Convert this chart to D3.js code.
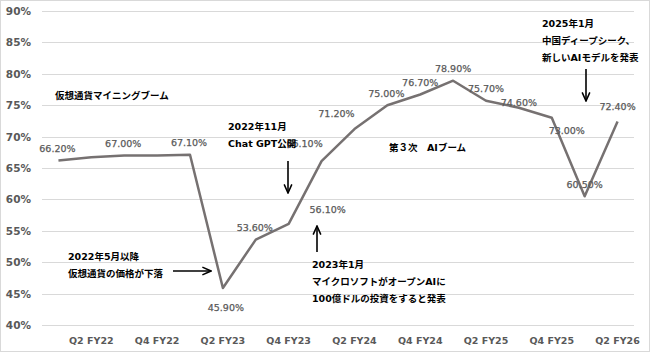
<!DOCTYPE html>
<html>
<head>
<meta charset="utf-8">
<script src="https://cdn.jsdelivr.net/npm/d3@7"></script>
<style>
  body { margin: 0; background: #fff; }
  text { font-family: "DejaVu Sans", "Noto Sans CJK JP", sans-serif; }
</style>
</head>
<body>
<div id="chart"></div>
<script>
// quarters, Q1 FY22 .. Q2 FY26
var quarters = ['Q1 FY22', 'Q2 FY22', 'Q3 FY22', 'Q4 FY22',
    'Q1 FY23', 'Q2 FY23', 'Q3 FY23', 'Q4 FY23',
    'Q1 FY24', 'Q2 FY24', 'Q3 FY24', 'Q4 FY24',
    'Q1 FY25', 'Q2 FY25', 'Q3 FY25', 'Q4 FY25',
    'Q1 FY26', 'Q2 FY26'];
var values = [66.2, 66.7, 67.0, 67.0, 67.1, 45.9, 53.6, 56.1, 66.1,
    71.2, 75.0, 76.7, 78.9, 75.7, 74.6, 73.0, 60.5, 72.4];
// labels shown on the chart (null = no label)
var pointLabels = ['66.20%', null, '67.00%', null, '67.10%', '45.90%', '53.60%', '56.10%', '66.10%',
    '71.20%', '75.00%', '76.70%', '78.90%', '75.70%', '74.60%', '73.00%', '60.50%', '72.40%'];
var xTickLabels = ['Q2 FY22', 'Q4 FY22', 'Q2 FY23', 'Q4 FY23', 'Q2 FY24',
    'Q4 FY24', 'Q2 FY25', 'Q4 FY25', 'Q2 FY26'];
var yTicks = [40, 45, 50, 55, 60, 65, 70, 75, 80, 85, 90];

// where each data label sits relative to its point
var labelShift = [[-1, -12], [0, 0], [-1, -12], [0, 0], [-1, -12], [3, 20], [-1, -12], [39, -14], [-17, -18],
    [-18, -16], [-1, -12], [0, -12], [0, -12], [0, -12], [0, -5], [15, 13], [0, -12], [0, -15]];

var svg = d3.select('#chart')
    .append('svg')
    .attr('width', 650)
    .attr('height', 352);

svg.append('rect')
    .attr('x', 0.5).attr('y', 0.5)
    .attr('width', 649).attr('height', 351)
    .attr('fill', '#fff')
    .attr('stroke', '#d9d9d9');

var plotLeft = 42, plotRight = 634, plotTop = 11, plotBottom = 325;

var x = d3.scalePoint().domain(quarters).range([plotLeft, plotRight]).padding(0.5);
var y = d3.scaleLinear().domain([40, 90]).range([plotBottom, plotTop]);

// gridlines
svg.append('g')
    .selectAll('line')
    .data(yTicks)
    .enter()
    .append('line')
    .attr('x1', plotLeft)
    .attr('x2', plotRight)
    .attr('y1', function(d) { return Math.round(y(d)) + 0.5; })
    .attr('y2', function(d) { return Math.round(y(d)) + 0.5; })
    .attr('stroke', '#d9d9d9')
    .attr('stroke-width', 1);

// y axis labels
svg.append('g')
    .selectAll('text')
    .data(yTicks)
    .enter()
    .append('text')
    .attr('x', 31)
    .attr('y', function(d) { return y(d) + 4; })
    .attr('text-anchor', 'end')
    .attr('font-size', '10.5px')
    .attr('font-weight', 'bold')
    .attr('fill', '#595959')
    .text(function(d) { return d + '%'; });

// x axis labels
svg.append('g')
    .selectAll('text')
    .data(xTickLabels)
    .enter()
    .append('text')
    .attr('x', function(d) { return x(d); })
    .attr('y', 344)
    .attr('text-anchor', 'middle')
    .attr('font-size', '9.5px')
    .attr('font-weight', 'bold')
    .attr('fill', '#595959')
    .text(function(d) { return d; });

// the line
var line = d3.line()
    .x(function(d, i) { return x(quarters[i]); })
    .y(function(d) { return y(d); });

svg.append('path')
    .datum(values)
    .attr('d', line)
    .attr('fill', 'none')
    .attr('stroke', '#767171')
    .attr('stroke-width', 2.5)
    .attr('stroke-linejoin', 'round');

// data labels
var labelData = values.map(function(v, i) {
    return { q: quarters[i], v: v, text: pointLabels[i], shift: labelShift[i] };
}).filter(function(d) { return d.text !== null; });

svg.append('g')
    .selectAll('text')
    .data(labelData)
    .enter()
    .append('text')
    .attr('x', function(d) { return x(d.q) + d.shift[0]; })
    .attr('y', function(d) { return y(d.v) + d.shift[1] + 3.5; })
    .attr('text-anchor', 'middle')
    .attr('font-size', '9.5px')
    .attr('fill', '#595959')
    .attr('stroke', '#595959')
    .attr('stroke-width', 0.25)
    .text(function(d) { return d.text; });

// arrow head
svg.append('defs')
    .append('marker')
    .attr('id', 'head')
    .attr('viewBox', '0 0 10 10')
    .attr('refX', 9)
    .attr('refY', 5)
    .attr('markerWidth', 6)
    .attr('markerHeight', 6)
    .attr('orient', 'auto')
    .append('path')
    .attr('d', 'M0,1 L9,5 L0,9')
    .attr('fill', 'none')
    .attr('stroke', '#000')
    .attr('stroke-width', 1.6);

// annotations
var notes = [
    { x: 55, y: 95, lines: ['仮想通貨マイニングブーム'] },
    { x: 228, y: 126, lines: ['2022年11月', 'Chat GPT公開'] },
    { x: 389, y: 147, lines: ['第３次　AIブーム'] },
    { x: 542, y: 23, lines: ['2025年1月', '中国ディープシーク、', '新しいAIモデルを発表'] },
    { x: 68, y: 256, lines: ['2022年5月以降', '仮想通貨の価格が下落'] },
    { x: 312, y: 264, lines: ['2023年1月', 'マイクロソフトがオープンAIに', '100億ドルの投資をすると発表'] }
];

notes.forEach(function(n) {
    var t = svg.append('text')
        .attr('font-size', '9.5px')
        .attr('font-weight', 'bold')
        .attr('fill', '#000');
    n.lines.forEach(function(s, i) {
        t.append('tspan')
            .attr('x', n.x)
            .attr('y', n.y + 3.5 + i * 17)
            .text(s);
    });
});

var arrows = [
    [288, 161, 288, 193],
    [586, 69, 586, 101],
    [173, 271, 211, 271],
    [317, 252, 317, 226]
];

svg.append('g')
    .selectAll('line')
    .data(arrows)
    .enter()
    .append('line')
    .attr('x1', function(d) { return d[0]; })
    .attr('y1', function(d) { return d[1]; })
    .attr('x2', function(d) { return d[2]; })
    .attr('y2', function(d) { return d[3]; })
    .attr('stroke', '#000')
    .attr('stroke-width', 1.6)
    .attr('marker-end', 'url(#head)');
</script>
</body>
</html>
